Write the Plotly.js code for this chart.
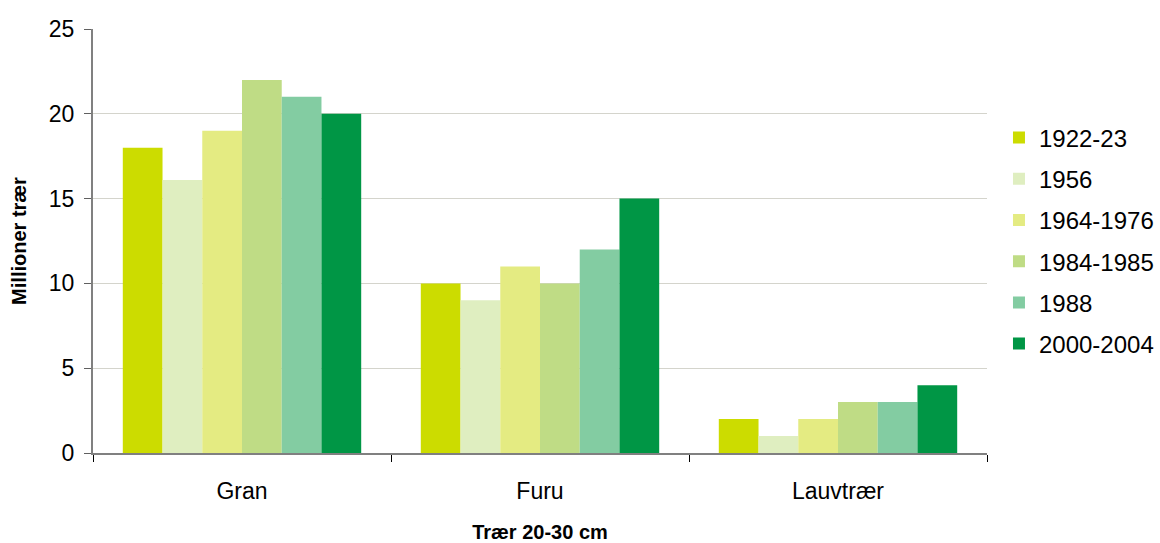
<!DOCTYPE html>
<html>
<head>
<meta charset="utf-8">
<script src="https://cdn.plot.ly/plotly-3.0.1.min.js"></script>
<style>html,body{margin:0;padding:0;background:#fff;}#chart{width:1160px;height:543px;}</style>
</head>
<body>
<div id="chart"></div>
<script>
const categories = ["Gran", "Furu", "Lauvtrær"];
const seriesNames = ["1922-23", "1956", "1964-1976", "1984-1985", "1988", "2000-2004"];
const v1922 = [18, 10, 2];
const v1956 = [16.1, 9, 1];
const v1964 = [19, 11, 2];
const v1984 = [22, 10, 3];
const v1988 = [21, 12, 3];
const v2000 = [20, 15, 4];
const seriesValues = [v1922, v1956, v1964, v1984, v1988, v2000];
const colors = ["#ccdc00", "#dfeec0", "#e4eb82", "#bfdc85", "#83cca2", "#009645"];
const yTicks = [0, 5, 10, 15, 20, 25];

const traces = seriesNames.map((name, i) => ({
  type: "bar",
  name: name,
  x: categories,
  y: seriesValues[i],
  marker: {color: colors[i], line: {width: 0}},
  legendgroup: "g" + i,
  hoverinfo: "x+y+name"
}));

const layout = {
  width: 1160, height: 543,
  margin: {l: 93, r: 173, t: 29, b: 90, autoexpand: false},
  paper_bgcolor: "#fff", plot_bgcolor: "#fff",
  font: {family: "Liberation Sans, Arial, sans-serif", color: "#000", size: 23},
  barmode: "group", bargap: 0.2, bargroupgap: 0,
  showlegend: true,
  legend: {x: 1.0134, xanchor: "left", y: 0.5, yanchor: "middle",
           font: {size: 24}, tracegroupgap: 7, itemwidth: 30,
           bgcolor: "rgba(0,0,0,0)"},
  xaxis: {
    type: "category",
    showline: true, linecolor: "#808080", linewidth: 2,
    ticks: "outside", tickson: "boundaries", ticklen: 7, tickcolor: "#000", tickwidth: 1,
    showgrid: false, zeroline: false,
    tickfont: {size: 23}, ticklabelstandoff: 16,
    title: {text: "<b>Trær 20-30 cm</b>", font: {size: 20}, standoff: 22}
  },
  yaxis: {
    range: [0, 25], tickvals: yTicks, ticktext: yTicks.map(String),
    showline: true, linecolor: "#808080", linewidth: 2,
    ticks: "outside", ticklen: 7, tickcolor: "#606060", tickwidth: 1,
    showgrid: true, gridcolor: "#d4d4cc", gridwidth: 1,
    zeroline: false,
    tickfont: {size: 23}, ticklabelstandoff: 5,
    title: {text: "<b>Millioner trær</b>", font: {size: 20}, standoff: 17}
  }
};

Plotly.newPlot("chart", traces, layout, {displayModeBar: false, staticPlot: true});
</script>
</body>
</html>
